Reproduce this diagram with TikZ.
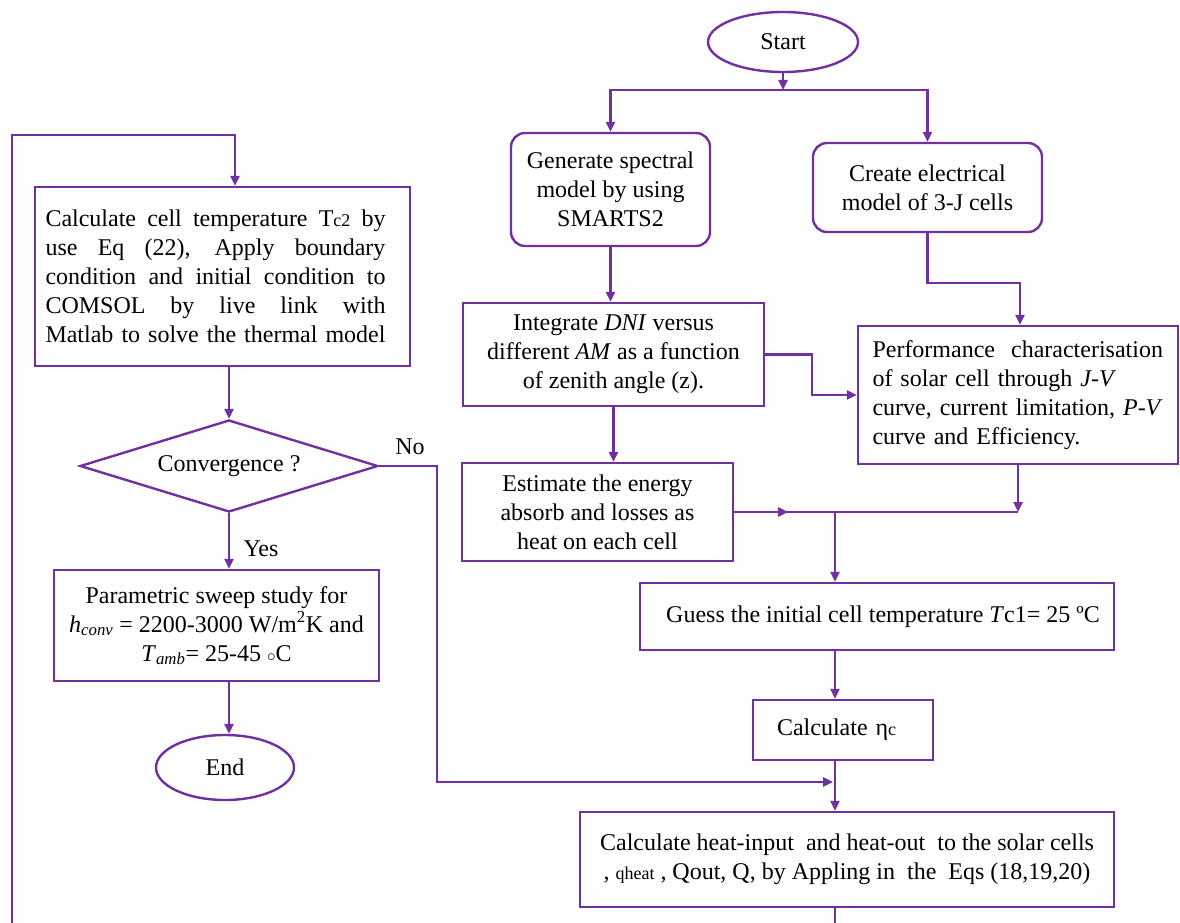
\documentclass[tikz,border=0pt]{standalone}
\usepackage{fontspec}
\setmainfont{Liberation Serif}
\usetikzlibrary{shapes.geometric,arrows.meta}
\definecolor{pur}{HTML}{7030A0}
\tikzset{
  box/.style={draw=pur, line width=2.4pt, rectangle, inner sep=0pt, font=\fontsize{24}{29}\selectfont, align=center},
  rbox/.style={box, rounded corners=14pt},
  oval/.style={draw=pur, line width=2.4pt, ellipse, inner sep=0pt, font=\fontsize{24}{29}\selectfont},
  decision/.style={draw=pur, line width=2.4pt, diamond, shape aspect=3.24, inner sep=0pt, font=\fontsize{24}{29}\selectfont},
  arr/.style={draw=pur, line width=2.4pt, -{Triangle[length=10pt,width=9pt]}},
  ln/.style={draw=pur, line width=2.4pt},
  lbl/.style={font=\fontsize{24}{29}\selectfont, inner sep=0pt}
}
\newcommand{\smc}[1]{{\fontsize{18}{20}\selectfont #1}}
\newcommand{\jl}[1]{{\spaceskip=0pt\xspaceskip=0pt\makebox[340pt][s]{#1}}}
\begin{document}
\begin{tikzpicture}[x=1pt,y=-1pt]
\useasboundingbox (0,0) rectangle (1180,923);

% nodes
\node[oval, minimum width=150, minimum height=60] (start) at (783,42) {Start};
\node[rbox, minimum width=199, minimum height=113] (gen) at (610.5,189.5) {Generate spectral\\model by using\\SMARTS2};
\node[rbox, minimum width=229, minimum height=89] (cre) at (927.5,187.5) {Create electrical\\model of 3-J cells};
\node[box, minimum width=301, minimum height=103] (integ) at (613.5,354.5) {Integrate \textit{DNI} versus\\different \textit{AM} as a function\\of zenith angle (z).};
\node[box, minimum width=320, minimum height=138, text width=291, align=left] (perf) at (1018,395) {Performance\ \ characterisation\\of solar cell through \textit{J-V}\\curve, current limitation, \textit{P-V}\\curve and Efficiency.};
\node[box, minimum width=271, minimum height=98] (est) at (597.5,512) {Estimate the energy\\absorb and losses as\\heat on each cell};
\node[box, minimum width=474, minimum height=67] (guess) at (877,616.5) {\hspace*{12pt}Guess the initial cell temperature \textit{T}c1= 25 ºC};
\node[box, minimum width=180, minimum height=60, text width=132, align=left] (calc) at (843,730) {Calculate η\smc{c}};
\node[box, minimum width=534, minimum height=95] (qbox) at (847,859.5) {Calculate heat-input\ \ and heat-out\ \ to the solar cells\\, \smc{qheat} , Qout, Q, by Appling in\ \ the\ \ Eqs (18,19,20)};
\node[box, minimum width=375, minimum height=179, text width=354, align=left] (big) at (222.5,276.5) {\jl{Calculate cell temperature T\smc{c2} by}\\\jl{use Eq (22), Apply boundary}\\\jl{condition and initial condition to}\\\jl{COMSOL by live link with}\\\jl{Matlab to solve the thermal model}};
\node[decision, minimum width=298, minimum height=92] (dia) at (229,466) {Convergence ?};
\node[box, minimum width=325, minimum height=111] (par) at (216.5,625.5) {Parametric sweep study for\\\textit{h}\textsubscript{\textit{conv}} = 2200-3000 W/m\textsuperscript{2}K and\\\textit{T}\textsubscript{\textit{amb}}= 25-45 $\scriptstyle\circ$C};
\node[oval, minimum width=138, minimum height=65] (end) at (225,767.5) {End};

\node[lbl] (no) at (410,447) {No};
\node[lbl] (yes) at (261,549) {Yes};

% coordinates
\coordinate (j0) at (783,90);
\coordinate (c1) at (1020,283);
\coordinate (j2) at (835,512);
\coordinate (n1) at (437,782);
\coordinate (bot) at (835,923);
\coordinate (lb) at (12,923);
\coordinate (lt) at (12,135);
\coordinate (lt2) at (235,135);

% connectors
\draw[arr] (start.south) -- (j0);
\draw[arr] (j0) -| (gen.north);
\draw[arr] (j0) -| (cre.north);
\draw[arr] (gen.south) -- (gen.south |- integ.north);
\draw[arr] (cre.south) |- (c1) -- (c1 |- perf.north);
\draw[arr] (integ.east) -- ++(47,0) |- (perf.west);
\draw[arr] (integ.south) -- (integ.south |- est.north);
\draw[ln] (est.east) -- (perf.south |- est.east);
\draw[arr] (est.east) -- ++(54,0);
\draw[arr] (perf.south) -- (perf.south |- est.east);
\draw[arr] (j2) -- (j2 |- guess.north);
\draw[arr] (j2 |- guess.south) -- (j2 |- calc.north);
\draw[arr] (j2 |- calc.south) -- (j2 |- qbox.north);
\draw[ln] (j2 |- qbox.south) -- (bot);
\draw[arr] (dia.east) -| (n1) -- ([xshift=-2pt]j2 |- n1);
\draw[arr] (lb) -- (lt) -- (lt2) -- (lt2 |- big.north);
\draw[arr] (dia.north |- big.south) -- (dia.north);
\draw[arr] (dia.south) -- (dia.south |- par.north);
\draw[arr] (dia.south |- par.south) -- (dia.south |- end.north);
\end{tikzpicture}
\end{document}
